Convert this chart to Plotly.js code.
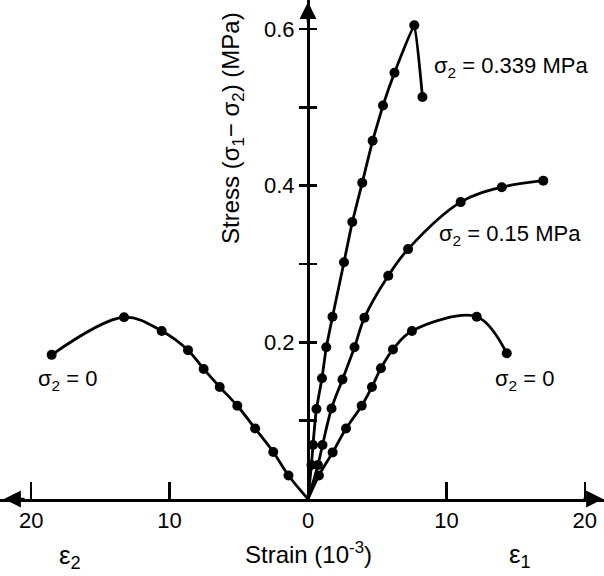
<!DOCTYPE html>
<html>
<head>
<meta charset="utf-8">
<script src="https://cdn.plot.ly/plotly-3.0.1.min.js"></script>
<style>html,body{margin:0;padding:0;background:#fff;}#chart{width:604px;height:576px;}</style>
</head>
<body>
<div id="chart"></div>
<script>
// ---- Data (strain in 10^-3, stress in MPa) ----
// sigma2 = 0, lateral strain eps2 (plotted to the left, values given as magnitudes)
const eps2_s0 = [1.41, 2.51, 3.82, 5.11, 6.38, 7.54, 8.67, 10.57, 13.29, 18.52];
const stress_eps2_s0 = [0.030, 0.060, 0.090, 0.119, 0.143, 0.166, 0.190, 0.2145, 0.232, 0.184];
// sigma2 = 0, axial strain eps1
const eps1_s0 = [0.79, 1.78, 2.75, 3.88, 4.62, 5.27, 6.14, 7.51, 12.19, 14.36];
const stress_eps1_s0 = [0.030, 0.0595, 0.090, 0.119, 0.143, 0.167, 0.191, 0.2145, 0.2327, 0.186];
// sigma2 = 0.15 MPa
const eps1_s015 = [0.72, 1.05, 1.70, 2.49, 3.36, 4.08, 5.80, 7.23, 11.03, 14.0, 17.0];
const stress_s015 = [0.0434, 0.0689, 0.1155, 0.1526, 0.1937, 0.2315, 0.285, 0.319, 0.379, 0.398, 0.4064];
// sigma2 = 0.339 MPa
const eps1_s0339 = [0.25, 0.36, 0.61, 1.01, 1.32, 1.77, 2.60, 3.20, 3.92, 4.67, 5.42, 6.25, 7.68, 8.27];
const stress_s0339 = [0.0434, 0.0689, 0.1149, 0.1541, 0.1937, 0.2327, 0.3023, 0.3536, 0.4038, 0.4574, 0.5024, 0.5442, 0.6047, 0.5132];

const xTickVals = [-20, -10, 0, 10, 20];
const xTickText = ['20', '10', '0', '10', '20'];
const yTickVals = [0.1, 0.2, 0.3, 0.4, 0.5, 0.6];
const yTickText = ['', '0.2', '', '0.4', '', '0.6'];

// ---- helpers ----
const W = 604, PH = 499;
const px = v => v / W;             // page x pixel -> paper
const py = v => 1 - v / PH;        // page y pixel -> paper
const FONT = 'Liberation Sans, Arial, Helvetica, sans-serif';

function curve(xs, ys, neg, smooth) {
  const x = [0].concat(xs.map(v => neg ? -v : v));
  const y = [0].concat(ys);
  return {x: x, y: y, mode: 'lines', type: 'scatter', hoverinfo: 'skip',
          line: {color: 'black', width: 2.8, shape: smooth > 0 ? 'spline' : 'linear', smoothing: smooth}};
}
function dots(xs, ys, neg) {
  return {x: xs.map(v => neg ? -v : v), y: ys, mode: 'markers', type: 'scatter',
          marker: {color: 'black', size: 10}};
}

const traces = [
  curve(eps2_s0, stress_eps2_s0, true, 1),
  dots(eps2_s0, stress_eps2_s0, true),
  curve(eps1_s0, stress_eps1_s0, false, 1),
  dots(eps1_s0, stress_eps1_s0, false),
  curve(eps1_s015, stress_s015, false, 1),
  dots(eps1_s015, stress_s015, false),
  curve(eps1_s0339, stress_s0339, false, 0.3),
  dots(eps1_s0339, stress_s0339, false),
  {x: [0], y: [0], yaxis: 'y2', mode: 'markers', marker: {opacity: 0}, hoverinfo: 'skip'}
];

function label(x, y, text, size, extra) {
  return Object.assign({xref: 'paper', yref: 'paper', x: px(x), y: py(y), showarrow: false,
    xanchor: 'center', yanchor: 'middle', text: text, font: {family: FONT, size: size, color: 'black'}}, extra || {});
}

const yPos = 308 / W;
const layout = {
  width: 604, height: 576,
  margin: {l: 0, r: 0, t: 0, b: 77, pad: 0},
  paper_bgcolor: 'white', plot_bgcolor: 'white',
  showlegend: false,
  font: {family: FONT, size: 22, color: 'black'},
  xaxis: {
    range: [-308 / 13.84, 296 / 13.84],
    showline: true, linewidth: 3, linecolor: 'black',
    ticks: 'inside', ticklen: 17, tickwidth: 2.5, tickcolor: 'black',
    tickvals: xTickVals, ticktext: xTickText,
    ticklabelstandoff: 0,
    showgrid: false, zeroline: false, fixedrange: true,
    tickfont: {family: FONT, size: 22}
  },
  yaxis: {
    range: [0, 0.637],
    anchor: 'free', position: yPos,
    showline: true, linewidth: 3, linecolor: 'black',
    ticks: 'outside', ticklen: 8, tickwidth: 2.5, tickcolor: 'black',
    tickvals: yTickVals, ticktext: yTickText,
    showgrid: false, zeroline: false, fixedrange: true,
    tickfont: {family: FONT, size: 22}
  },
  yaxis2: {
    range: [0, 0.637], overlaying: 'y',
    anchor: 'free', position: yPos,
    showline: false,
    ticks: 'inside', ticklen: 8, tickwidth: 2.5, tickcolor: 'black',
    tickvals: yTickVals, showticklabels: false,
    showgrid: false, zeroline: false, fixedrange: true
  },
  annotations: [
    // axis arrowheads
    {xref: 'paper', yref: 'paper', x: px(4), y: 0, ax: 22, ay: 0, showarrow: true, arrowhead: 2, arrowsize: 1.3, arrowwidth: 2.6, arrowcolor: 'black', text: ''},
    {xref: 'paper', yref: 'paper', x: 1, y: 0, ax: -22, ay: 0, showarrow: true, arrowhead: 2, arrowsize: 1.3, arrowwidth: 2.6, arrowcolor: 'black', text: ''},
    {xref: 'paper', yref: 'paper', x: yPos, y: py(2), ax: 0, ay: 22, showarrow: true, arrowhead: 2, arrowsize: 1.3, arrowwidth: 2.6, arrowcolor: 'black', text: ''},
    // titles
    label(232, 128, 'Stress (σ<sub>1</sub>− σ<sub>2</sub>) (MPa)', 24, {textangle: -90}),
    label(308, 553, 'Strain (10<sup>-3</sup>)', 24),
    label(70, 556, 'ε<sub>2</sub>', 26),
    label(520, 555, 'ε<sub>1</sub>', 26),
    // curve labels
    label(36, 380, 'σ<sub>2</sub> = 0', 22, {xanchor: 'left'}),
    label(493, 380, 'σ<sub>2</sub> = 0', 22, {xanchor: 'left'}),
    label(432, 67, 'σ<sub>2</sub> = 0.339 MPa', 22, {xanchor: 'left'}),
    label(437, 235, 'σ<sub>2</sub> = 0.15 MPa', 22, {xanchor: 'left'})
  ]
};

Plotly.newPlot('chart', traces, layout, {displayModeBar: false, staticPlot: true});
</script>
</body>
</html>
